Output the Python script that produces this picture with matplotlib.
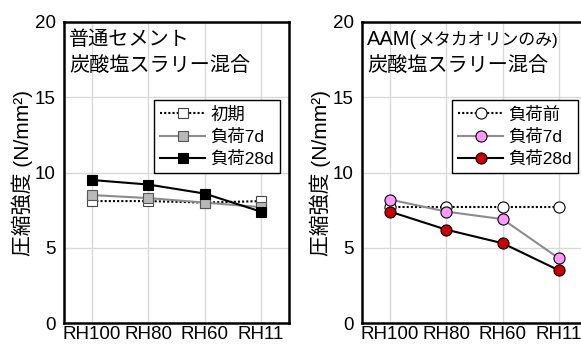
import matplotlib
matplotlib.use("Agg")
import matplotlib.pyplot as plt

plt.rcParams['font.family'] = ['Liberation Sans', 'Noto Sans CJK JP']

categories = ['RH100', 'RH80', 'RH60', 'RH11']

# Left panel: 普通セメント
left_initial = [8.1, 8.1, 8.0, 8.1]
left_7d = [8.5, 8.3, 8.0, 7.7]
left_28d = [9.5, 9.2, 8.6, 7.4]
left_labels = ['初期', '負荷7d', '負荷28d']

# Right panel: AAM
right_initial = [7.7, 7.7, 7.7, 7.7]
right_7d = [8.2, 7.4, 6.9, 4.3]
right_28d = [7.4, 6.2, 5.3, 3.5]
right_labels = ['負荷前', '負荷7d', '負荷28d']

yticks = [0, 5, 10, 15, 20]

FS = 14.5

fig = plt.figure(figsize=(5.81, 3.44), dpi=100)
axL = fig.add_axes([64/581, 21/344, 225/581, 301/344])
axR = fig.add_axes([362/581, 21/344, 225/581, 301/344])

def style(ax):
    ax.set_xlim(-0.5, 3.5)
    ax.set_ylim(0, 20)
    ax.set_xticks(range(len(categories)))
    ax.set_xticklabels(categories)
    ax.set_yticks(yticks)
    ax.grid(True, color='#d9d9d9', linewidth=1.0, zorder=0)
    ax.set_axisbelow(True)
    for s in ax.spines.values():
        s.set_linewidth(1.8)
        s.set_color('black')
    ax.tick_params(axis='both', length=0, labelsize=13.5)
    ax.tick_params(axis='y', pad=6)
    ax.tick_params(axis='x', pad=2)
    ax.set_ylabel('圧縮強度 (N/mm²)', fontsize=15, labelpad=1)

x = list(range(len(categories)))
ms_sq = 7.5
axL.plot(x, left_initial, linestyle=(0, (1, 1)), color='black', linewidth=1.5,
         marker='s', markersize=ms_sq, markerfacecolor='white', markeredgecolor='#444444',
         markeredgewidth=0.8, label=left_labels[0], zorder=3)
axL.plot(x, left_7d, linestyle='-', color='#8c8c8c', linewidth=1.5,
         marker='s', markersize=ms_sq, markerfacecolor='#b8b8b8', markeredgecolor='#555555',
         markeredgewidth=0.8, label=left_labels[1], zorder=4)
axL.plot(x, left_28d, linestyle='-', color='black', linewidth=1.5,
         marker='s', markersize=ms_sq, markerfacecolor='black', markeredgecolor='black',
         markeredgewidth=0.8, label=left_labels[2], zorder=5)

ms_c = 8
axR.plot(x, right_initial, linestyle=(0, (1, 1)), color='black', linewidth=1.5,
         marker='o', markersize=ms_c, markerfacecolor='white', markeredgecolor='black',
         markeredgewidth=0.8, label=right_labels[0], zorder=3)
axR.plot(x, right_7d, linestyle='-', color='#8c8c8c', linewidth=1.5,
         marker='o', markersize=ms_c, markerfacecolor='#ff99ff', markeredgecolor='black',
         markeredgewidth=0.8, label=right_labels[1], zorder=4)
axR.plot(x, right_28d, linestyle='-', color='black', linewidth=1.5,
         marker='o', markersize=ms_c, markerfacecolor='#cc0000', markeredgecolor='black',
         markeredgewidth=0.8, label=right_labels[2], zorder=5)

style(axL)
style(axR)

px = 72.0 / fig.dpi  # points per pixel
anchor = (0.022, 0.975)
line2_dy = -27 * px

def note(ax, s, dx_px=0.0, dy=0.0, fs=FS):
    ax.annotate(s, xy=anchor, xycoords='axes fraction', xytext=(dx_px * px, dy),
                textcoords='offset points', va='top', ha='left', fontsize=fs)

# Left panel annotation
note(axL, '普通セメント')
note(axL, '炭酸塩スラリー混合', dy=line2_dy)

# Right panel annotation (narrower kana as in the reference)
note(axR, 'AAM(')
note(axR, 'メタカオリンのみ)', dx_px=50, dy=-1.2, fs=12.2)
note(axR, '炭酸塩スラリー混合', dy=line2_dy)

for ax in (axL, axR):
    leg = ax.legend(loc='upper left', bbox_to_anchor=(0.4, 0.74), fontsize=12.5,
                    frameon=True, fancybox=False, edgecolor='black', framealpha=1,
                    handlelength=2.6, handletextpad=0.3, borderpad=0.35,
                    labelspacing=0.35, borderaxespad=0)
    leg.get_frame().set_linewidth(1.0)

fig.savefig('out.png', dpi=100)
